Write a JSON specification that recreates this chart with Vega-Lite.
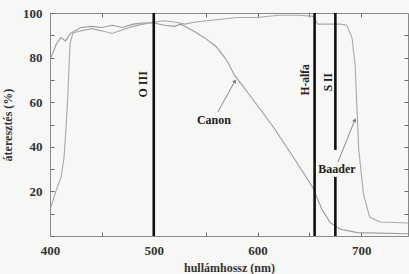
{
  "$schema": "https://vega.github.io/schema/vega-lite/v6.json",
  "width": 358,
  "height": 223,
  "autosize": {"type": "none"},
  "padding": {"left": 50, "top": 13, "right": 1, "bottom": 38},
  "background": "#f7f7f5",
  "config": {
    "view": {"stroke": "#8a8a8a", "strokeWidth": 1},
    "axis": {
      "grid": false,
      "labelFont": "Liberation Serif",
      "labelFontWeight": "bold",
      "labelFontSize": 13,
      "labelColor": "#333",
      "labelFlush": false,
      "titleFont": "Liberation Serif",
      "titleFontWeight": "bold",
      "titleFontSize": 12,
      "titleColor": "#333",
      "domainColor": "#8a8a8a",
      "tickColor": "#666",
      "tickWidth": 1,
      "tickSize": -4
    }
  },
  "datasets": {
    "curves": [
      {"series": "Canon", "nm": 401, "t": 80},
      {"series": "Canon", "nm": 406, "t": 86},
      {"series": "Canon", "nm": 410.5, "t": 89},
      {"series": "Canon", "nm": 415, "t": 87.5},
      {"series": "Canon", "nm": 420, "t": 91},
      {"series": "Canon", "nm": 430, "t": 93.5},
      {"series": "Canon", "nm": 440, "t": 94},
      {"series": "Canon", "nm": 450, "t": 93.5},
      {"series": "Canon", "nm": 460, "t": 94.5},
      {"series": "Canon", "nm": 470, "t": 93.5},
      {"series": "Canon", "nm": 480, "t": 95},
      {"series": "Canon", "nm": 490, "t": 95.5},
      {"series": "Canon", "nm": 500, "t": 95.5},
      {"series": "Canon", "nm": 510, "t": 94.5},
      {"series": "Canon", "nm": 520, "t": 94},
      {"series": "Canon", "nm": 526, "t": 95},
      {"series": "Canon", "nm": 532, "t": 93.5},
      {"series": "Canon", "nm": 540, "t": 91.5},
      {"series": "Canon", "nm": 550, "t": 88.5},
      {"series": "Canon", "nm": 560, "t": 85},
      {"series": "Canon", "nm": 570, "t": 79},
      {"series": "Canon", "nm": 578, "t": 72},
      {"series": "Canon", "nm": 596, "t": 61},
      {"series": "Canon", "nm": 615, "t": 49},
      {"series": "Canon", "nm": 635, "t": 35},
      {"series": "Canon", "nm": 653, "t": 22},
      {"series": "Canon", "nm": 662, "t": 12},
      {"series": "Canon", "nm": 670, "t": 6},
      {"series": "Canon", "nm": 680, "t": 3},
      {"series": "Canon", "nm": 696, "t": 1.5},
      {"series": "Canon", "nm": 745, "t": 1},
      {"series": "Baader", "nm": 401, "t": 13},
      {"series": "Baader", "nm": 405.5, "t": 20},
      {"series": "Baader", "nm": 410.5, "t": 26},
      {"series": "Baader", "nm": 413.5, "t": 35},
      {"series": "Baader", "nm": 415.5, "t": 49},
      {"series": "Baader", "nm": 417.3, "t": 64},
      {"series": "Baader", "nm": 418.3, "t": 76},
      {"series": "Baader", "nm": 419.3, "t": 86},
      {"series": "Baader", "nm": 422, "t": 91},
      {"series": "Baader", "nm": 430, "t": 92},
      {"series": "Baader", "nm": 440, "t": 93},
      {"series": "Baader", "nm": 450, "t": 92},
      {"series": "Baader", "nm": 460, "t": 90.8},
      {"series": "Baader", "nm": 470, "t": 92.5},
      {"series": "Baader", "nm": 480, "t": 94},
      {"series": "Baader", "nm": 490, "t": 95},
      {"series": "Baader", "nm": 500, "t": 96},
      {"series": "Baader", "nm": 510, "t": 96.5},
      {"series": "Baader", "nm": 520, "t": 96},
      {"series": "Baader", "nm": 530, "t": 95},
      {"series": "Baader", "nm": 540, "t": 96},
      {"series": "Baader", "nm": 560, "t": 97},
      {"series": "Baader", "nm": 580, "t": 98},
      {"series": "Baader", "nm": 600, "t": 98},
      {"series": "Baader", "nm": 620, "t": 99},
      {"series": "Baader", "nm": 640, "t": 99},
      {"series": "Baader", "nm": 654, "t": 98.5},
      {"series": "Baader", "nm": 658, "t": 95},
      {"series": "Baader", "nm": 670, "t": 95},
      {"series": "Baader", "nm": 680, "t": 95},
      {"series": "Baader", "nm": 686, "t": 94.5},
      {"series": "Baader", "nm": 691, "t": 89},
      {"series": "Baader", "nm": 694, "t": 77},
      {"series": "Baader", "nm": 696, "t": 55},
      {"series": "Baader", "nm": 697.5, "t": 39},
      {"series": "Baader", "nm": 702, "t": 19},
      {"series": "Baader", "nm": 708, "t": 8.5},
      {"series": "Baader", "nm": 718, "t": 6.3},
      {"series": "Baader", "nm": 745, "t": 5.8}
    ],
    "lines": [
      {"name": "O III", "nm": 500, "y0": 0, "y1": 100},
      {"name": "H-alfa", "nm": 655, "y0": 0, "y1": 100},
      {"name": "S II", "nm": 675, "y0": 0, "y1": 26.5},
      {"name": "S II", "nm": 675, "y0": 38.6, "y1": 100}
    ],
    "labels": [
      {"text": "O III", "nm": 490, "t": 68, "size": 12},
      {"text": "H-alfa", "nm": 646.5, "t": 70, "size": 11.5},
      {"text": "S II", "nm": 668.8, "t": 69, "size": 11.5}
    ],
    "names": [
      {"text": "Canon", "nm": 558, "t": 52, "size": 12},
      {"text": "Baader", "nm": 676.5, "t": 30, "size": 12}
    ],
    "arrows": [
      {"name": "Canon", "nm0": 561.8, "t0": 55.6, "nm1": 578.2, "t1": 69.5, "angle": 29},
      {"name": "Baader", "nm0": 677.5, "t0": 33.2, "nm1": 693.8, "t1": 52, "angle": 22}
    ]
  },
  "layer": [
    {
      "data": {"name": "curves"},
      "mark": {"type": "line", "strokeWidth": 1.1},
      "encoding": {
        "x": {
          "field": "nm", "type": "quantitative",
          "scale": {"domain": [400, 745], "nice": false, "zero": false},
          "axis": {
            "title": "hullámhossz  (nm)",
            "values": [400, 450, 500, 550, 600, 650, 700],
            "labelExpr": "datum.value % 100 === 0 ? datum.label : ''",
            "labelPadding": 12,
            "titlePadding": 5
          }
        },
        "y": {
          "field": "t", "type": "quantitative",
          "scale": {"domain": [0, 100], "nice": false},
          "axis": {
            "title": "áteresztés  (%)",
            "values": [0, 10, 20, 30, 40, 50, 60, 70, 80, 90, 100],
            "labelExpr": "datum.value % 20 === 0 && datum.value > 0 ? datum.label : ''",
            "labelPadding": 12,
            "titlePadding": 8
          }
        },
        "color": {
          "field": "series", "type": "nominal", "legend": null,
          "scale": {"domain": ["Canon", "Baader"], "range": ["#9a9a9a", "#a8a8a8"]}
        }
      }
    },
    {
      "data": {"name": "curves"},
      "mark": {"type": "point", "opacity": 0},
      "encoding": {
        "x": {"field": "nm", "type": "quantitative",
          "axis": {"orient": "top", "labels": false, "title": null, "domain": false,
            "values": [400, 450, 500, 550, 600, 650, 700]}},
        "y": {"field": "t", "type": "quantitative",
          "axis": {"orient": "right", "labels": false, "title": null, "domain": false,
            "values": [10, 20, 30, 40, 50, 60, 70, 80, 90]}}
      }
    },
    {
      "data": {"name": "lines"},
      "mark": {"type": "rule", "color": "#111", "strokeWidth": 2.6},
      "encoding": {
        "x": {"field": "nm", "type": "quantitative", "axis": null},
        "y": {"field": "y0", "type": "quantitative", "axis": null},
        "y2": {"field": "y1"}
      }
    },
    {
      "data": {"name": "labels"},
      "mark": {"type": "text", "angle": 270, "font": "Liberation Serif", "fontWeight": "bold", "color": "#222"},
      "encoding": {
        "x": {"field": "nm", "type": "quantitative", "axis": null},
        "y": {"field": "t", "type": "quantitative", "axis": null},
        "text": {"field": "text"},
        "size": {"field": "size", "type": "quantitative", "scale": null}
      }
    },
    {
      "data": {"name": "names"},
      "mark": {"type": "text", "font": "Liberation Serif", "fontWeight": "bold", "color": "#222"},
      "encoding": {
        "x": {"field": "nm", "type": "quantitative", "axis": null},
        "y": {"field": "t", "type": "quantitative", "axis": null},
        "text": {"field": "text"},
        "size": {"field": "size", "type": "quantitative", "scale": null}
      }
    },
    {
      "data": {"name": "arrows"},
      "mark": {"type": "rule", "color": "#888", "strokeWidth": 1},
      "encoding": {
        "x": {"field": "nm0", "type": "quantitative", "axis": null},
        "y": {"field": "t0", "type": "quantitative", "axis": null},
        "x2": {"field": "nm1"},
        "y2": {"field": "t1"}
      }
    },
    {
      "data": {"name": "arrows"},
      "mark": {"type": "point", "shape": "triangle-up", "filled": true, "color": "#777", "size": 18, "opacity": 1},
      "encoding": {
        "x": {"field": "nm1", "type": "quantitative", "axis": null},
        "y": {"field": "t1", "type": "quantitative", "axis": null},
        "angle": {"field": "angle", "type": "quantitative", "scale": null}
      }
    }
  ],
  "resolve": {"axis": {"x": "independent", "y": "independent"}}
}
